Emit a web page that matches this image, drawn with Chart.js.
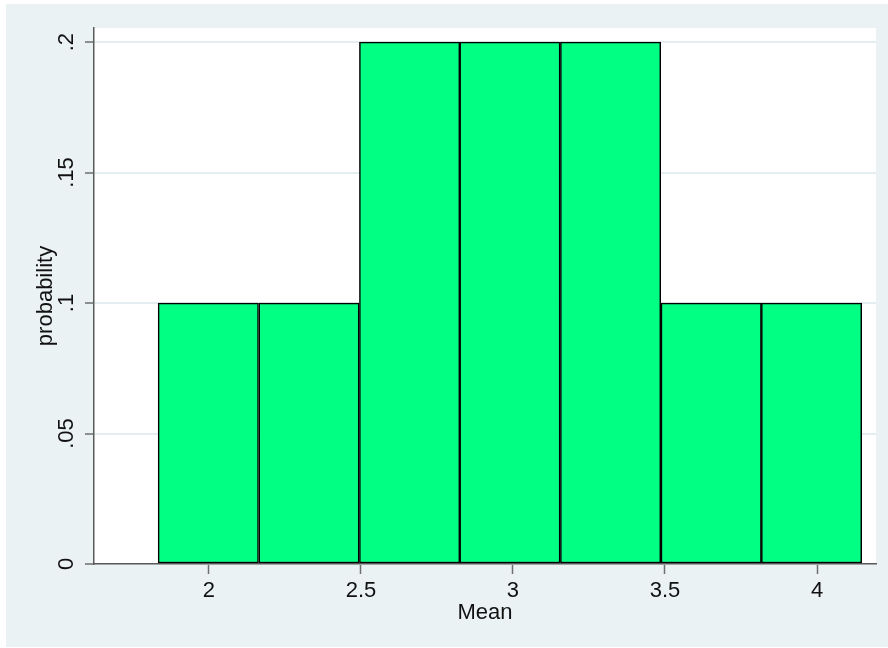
<!DOCTYPE html>
<html>
<head>
<meta charset="utf-8">
<title>Histogram of Mean</title>
<script src="https://cdn.jsdelivr.net/npm/chart.js@4/dist/chart.umd.min.js"></script>
<style>
  html, body { margin: 0; padding: 0; background: #ffffff; }
  canvas { display: block; }
</style>
</head>
<body>
<canvas id="histChart" width="888" height="648"></canvas>
<script>
// ---------- data ----------
// bin centres (bins start at ~1.833, width ~0.33) and probability of each bin
const binCenters = [1.998, 2.329, 2.660, 2.990, 3.321, 3.652, 3.982];
const binProbs = [0.1, 0.1, 0.2, 0.2, 0.2, 0.1, 0.1];

// axis ticks
const xTicks = [2, 2.5, 3, 3.5, 4];
const xTickLabels = ['2', '2.5', '3', '3.5', '4'];
const yTicks = [0, 0.05, 0.1, 0.15, 0.2];
const yTickLabels = ['0', '.05', '.1', '.15', '.2'];

const FONT = "'Liberation Sans', Arial, Helvetica, sans-serif";

// paint the stata-like backgrounds
const backgroundPlugin = {
    id: 'stataBackground',
    beforeDraw(chart) {
        const ctx = chart.ctx;
        const area = chart.chartArea;
        ctx.save();
        ctx.fillStyle = '#ffffff';
        ctx.fillRect(0, 0, chart.width, chart.height);
        ctx.fillStyle = '#eaf2f3';
        ctx.fillRect(6, 4, chart.width - 6, chart.height - 5);
        ctx.fillStyle = '#ffffff';
        ctx.fillRect(area.left, area.top, area.right - area.left, area.bottom - area.top);
        ctx.restore();
    }
};

new Chart(document.getElementById('histChart'), {
    type: 'bar',
    data: {
        datasets: [{
            label: 'probability',
            data: binCenters.map((x, i) => ({ x: x, y: binProbs[i] })),
            backgroundColor: '#00ff82',
            borderColor: '#000000',
            borderWidth: 1.5,
            borderSkipped: false,
            barPercentage: 1,
            categoryPercentage: 1
        }]
    },
    options: {
        responsive: false,
        animation: false,
        layout: { padding: { top: 28, right: 12, left: 0, bottom: 0 } },
        plugins: {
            legend: { display: false },
            tooltip: { enabled: false }
        },
        scales: {
            x: {
                type: 'linear',
                min: 1.622,
                max: 4.194,
                offset: false,
                afterBuildTicks: (scale) => { scale.ticks = xTicks.map(v => ({ value: v })); },
                afterFit: (scale) => { scale.height = 84; },
                grid: {
                    offset: false,
                    drawOnChartArea: false,
                    tickLength: 10,
                    tickColor: '#6e6e6e',
                    tickWidth: 1.5
                },
                border: { color: '#5a5a5a', width: 1.5 },
                ticks: {
                    padding: 4,
                    color: '#111111',
                    font: { family: FONT, size: 22 },
                    maxRotation: 0,
                    callback: (v, i) => xTickLabels[i]
                },
                title: {
                    display: true,
                    text: 'Mean',
                    color: '#111111',
                    font: { family: FONT, size: 22 },
                    padding: 22
                }
            },
            y: {
                min: 0,
                max: 0.2054,
                afterBuildTicks: (scale) => { scale.ticks = yTicks.map(v => ({ value: v })); },
                afterFit: (scale) => { scale.width = 94; },
                grid: {
                    color: '#e4edef',
                    lineWidth: 2,
                    tickLength: 9,
                    tickColor: '#6e6e6e',
                    tickWidth: 1.5
                },
                border: { color: '#5a5a5a', width: 1.5 },
                ticks: {
                    padding: 3,
                    color: '#111111',
                    font: { family: FONT, size: 22 },
                    minRotation: 90,
                    maxRotation: 90,
                    crossAlign: 'center',
                    callback: (v, i) => yTickLabels[i]
                },
                title: {
                    display: true,
                    text: 'probability',
                    color: '#111111',
                    font: { family: FONT, size: 22 },
                    padding: 33
                }
            }
        }
    },
    plugins: [backgroundPlugin]
});
</script>
</body>
</html>
